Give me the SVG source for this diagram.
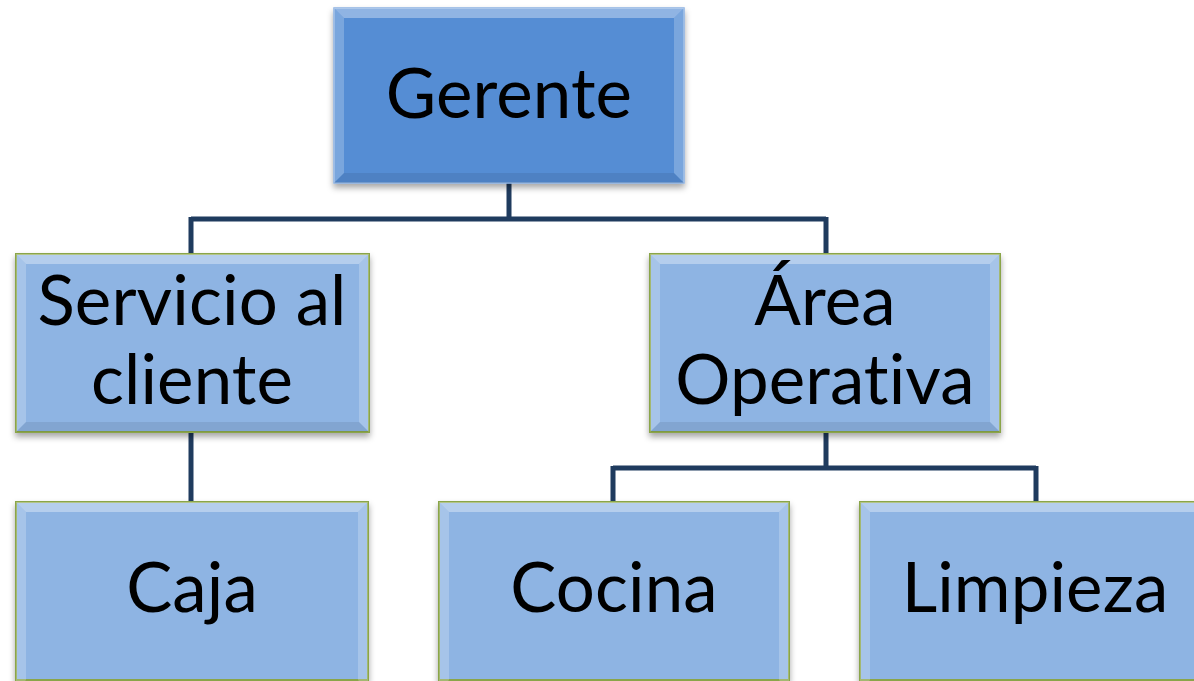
<svg xmlns="http://www.w3.org/2000/svg" width="1194" height="681" viewBox="0 0 1194 681">
<style>
.lbl{font-family:Lato,"Liberation Sans",sans-serif;font-size:69px;fill:#000;text-anchor:middle;font-variant-ligatures:none;font-feature-settings:"liga" 0,"clig" 0,"dlig" 0;letter-spacing:0.1px}
.conn{stroke:#1F3B5E;stroke-width:5;fill:none}
.sub{fill:#8EB4E3}
.bt{fill:#ffffff;opacity:0.35}
.bs{fill:#ffffff;opacity:0.22}
.bb{fill:#000000;opacity:0.08}
</style>
<defs>
<filter id="sh" x="-10%" y="-10%" width="120%" height="130%">
<feDropShadow dx="0" dy="4" stdDeviation="3" flood-color="#000" flood-opacity="0.35"/>
</filter>
</defs>
<g id="connectors">
<path class="conn" d="M509 183 V219 M191 219 H826 M191 217 V254 M826 217 V254"/>
<path class="conn" d="M191 432 V502"/>
<path class="conn" d="M826 432 V468 M613 468 H1036 M613 466 V502 M1036 466 V502"/>
</g>
<g id="gerente">
<rect x="334" y="8" width="350" height="175" fill="#548DD4" stroke="#8DB3E2" stroke-width="1.5" filter="url(#sh)"/>
<polygon class="bt" points="334,8 684,8 674,18 344,18"/>
<polygon class="bs" points="334,8 344,18 344,173 334,183"/>
<polygon class="bs" points="684,8 674,18 674,173 684,183"/>
<polygon class="bb" points="334,183 344,173 674,173 684,183"/>
<text class="lbl" x="509" y="118">Gerente</text>
</g>
<g id="servicio">
<rect x="16" y="254" width="353" height="178" class="sub" stroke="#8AA54A" stroke-width="2" filter="url(#sh)"/>
<polygon class="bt" points="16,254 369,254 359,264 26,264"/>
<polygon class="bs" points="16,254 26,264 26,422 16,432"/>
<polygon class="bs" points="369,254 359,264 359,422 369,432"/>
<polygon class="bb" points="16,432 26,422 359,422 369,432"/>
<text class="lbl" x="192" y="325">Servicio al</text>
<text class="lbl" x="192" y="404">cliente</text>
</g>
<g id="area">
<rect x="650" y="254" width="350" height="178" class="sub" stroke="#8AA54A" stroke-width="2" filter="url(#sh)"/>
<polygon class="bt" points="650,254 1000,254 990,264 660,264"/>
<polygon class="bs" points="650,254 660,264 660,422 650,432"/>
<polygon class="bs" points="1000,254 990,264 990,422 1000,432"/>
<polygon class="bb" points="650,432 660,422 990,422 1000,432"/>
<text class="lbl" x="825" y="325">Área</text>
<text class="lbl" x="825" y="404">Operativa</text>
</g>
<g id="caja">
<rect x="16" y="502" width="352" height="178" class="sub" stroke="#8AA54A" stroke-width="2" filter="url(#sh)"/>
<polygon class="bt" points="16,502 368,502 358,512 26,512"/>
<polygon class="bs" points="16,502 26,512 26,680 16,690"/>
<polygon class="bs" points="368,502 358,512 358,680 368,690"/>
<text class="lbl" x="192" y="612">Caja</text>
</g>
<g id="cocina">
<rect x="439" y="502" width="350" height="178" class="sub" stroke="#8AA54A" stroke-width="2" filter="url(#sh)"/>
<polygon class="bt" points="439,502 789,502 779,512 449,512"/>
<polygon class="bs" points="439,502 449,512 449,680 439,690"/>
<polygon class="bs" points="789,502 779,512 779,680 789,690"/>
<text class="lbl" x="614" y="612">Cocina</text>
</g>
<g id="limpieza">
<rect x="860" y="502" width="350" height="178" class="sub" stroke="#8AA54A" stroke-width="2" filter="url(#sh)"/>
<polygon class="bt" points="860,502 1210,502 1200,512 870,512"/>
<polygon class="bs" points="860,502 870,512 870,680 860,690"/>
<text class="lbl" x="1035" y="612">Limpieza</text>
</g>
</svg>
